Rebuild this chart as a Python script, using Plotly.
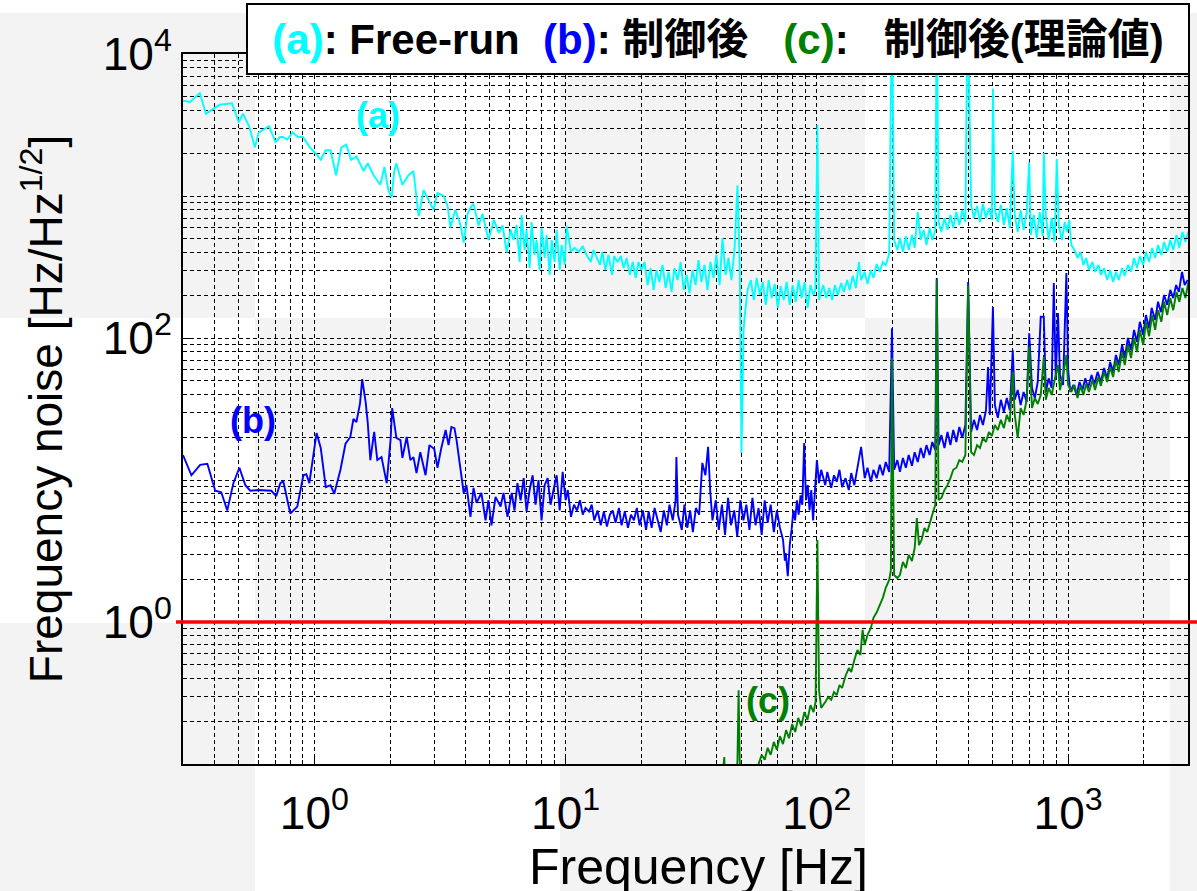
import plotly.graph_objects as go

# ---- (a) free-running frequency noise: (frequency [Hz], noise [Hz/Hz^1/2]) ----
free_run = [
    (0.30, 4700), (0.32, 4600), (0.35, 5300), (0.37, 3800), (0.42, 4400), (0.47, 4500),
    (0.50, 3300), (0.52, 3800), (0.55, 3100), (0.58, 2200), (0.60, 2800), (0.66, 3100),
    (0.70, 2400), (0.73, 2600), (0.75, 2600), (0.78, 2500), (0.82, 2800), (0.86, 2600),
    (0.90, 2600), (0.96, 2200), (1.01, 2000), (1.06, 1800), (1.11, 2100), (1.16, 2100),
    (1.22, 1400), (1.28, 2200), (1.34, 2300), (1.40, 1800), (1.47, 1900), (1.57, 1500),
    (1.63, 1700), (1.72, 1400), (1.83, 1200), (1.90, 1600), (1.97, 1100), (2.03, 980),
    (2.08, 1500), (2.12, 1700), (2.24, 1200), (2.37, 1400), (2.48, 1500), (2.60, 720),
    (2.72, 1100), (2.85, 940), (2.98, 800), (3.09, 1050), (3.27, 1000), (3.39, 850),
    (3.48, 600), (3.64, 800), (3.82, 620), (3.93, 470), (4.07, 750), (4.22, 850),
    (4.30, 880), (4.50, 620), (4.67, 750), (4.93, 490), (5.18, 680), (5.42, 550),
    (5.61, 620), (5.83, 400), (6.04, 580), (6.20, 490),
    (6.38, 625), (6.56, 343), (6.68, 735), (6.87, 417), (6.99, 577), (7.19, 311),
    (7.32, 656), (7.52, 385), (7.66, 490), (7.88, 301), (8.02, 596), (8.25, 366),
    (8.40, 531), (8.64, 278), (8.80, 490), (9.04, 343), (9.21, 577), (9.47, 301),
    (9.64, 452), (9.91, 327), (10.1, 615),
    (10.5, 404), (10.85, 431), (11.3, 404), (11.7, 444), (12.1, 385), (12.6, 343),
    (12.9, 417), (13.3, 366), (13.7, 327), (14.0, 404), (14.4, 301), (14.8, 385),
    (15.3, 278), (15.6, 378), (16.1, 343), (16.6, 378), (17.0, 311), (17.5, 366),
    (18.0, 278), (18.5, 343), (19.0, 265), (19.5, 343), (20.0, 301),
    (20.6, 343), (21.2, 236), (21.8, 311), (22.4, 218), (23.0, 301), (23.6, 248),
    (24.3, 327), (25.0, 225), (25.7, 292), (26.4, 211), (27.1, 311), (27.9, 256),
    (28.7, 343), (29.5, 218), (30.3, 278), (31.1, 207), (32.0, 301), (32.9, 236),
    (33.8, 354), (34.7, 248), (35.7, 327), (36.7, 218), (37.7, 343), (38.8, 265),
    (39.8, 385), (41.0, 236), (42.1, 506), (43.3, 278), (44.5, 366), (45.7, 256),
    (47.0, 417), (48.3, 1190), (49.3, 327), (50.1, 15.5), (51.1, 114), (51.5, 138),
    (53.0, 218),
    (54.6, 256), (56.1, 185), (57.6, 265), (59.3, 201), (60.9, 248), (62.6, 171),
    (64.3, 256), (66.1, 191), (68.0, 240), (69.9, 163), (71.8, 232), (73.8, 185),
    (75.8, 248), (77.9, 171), (80.1, 236), (82.3, 180), (84.6, 256), (86.9, 191),
    (89.3, 248), (91.8, 163), (94.3, 236), (96.9, 201), (98.6, 218), (100.5, 3160),
    (102, 185), (106, 236),
    (109, 191), (112, 225), (115, 185), (118, 236), (121, 201), (125, 244),
    (128, 211), (132, 256), (135, 218), (139, 274), (143, 225), (147, 343),
    (150, 256), (155, 292), (159, 240), (164, 301), (168, 265), (173, 332),
    (178, 292), (183, 343), (188, 327), (194, 391), (199, 25000), (203, 490),
    (209, 417), (214, 506), (220, 404), (226, 522), (232, 417), (239, 531),
    (245, 431), (252, 771), (259, 490), (266, 577), (273, 452), (281, 596),
    (288, 490), (296, 577), (300, 25000), (305, 656), (313, 558), (322, 700),
    (331, 577), (340, 735), (349, 596), (359, 771), (369, 625), (379, 797),
    (390, 656), (398, 25000), (411, 865), (422, 700), (434, 851), (446, 656),
    (458, 879), (471, 700), (484, 822), (497, 678), (502, 5680), (511, 797),
    (525, 656), (540, 865), (555, 625), (570, 822), (586, 596), (602, 2070),
    (613, 735), (630, 558), (647, 797), (665, 577), (684, 771), (700, 1730),
    (710, 531), (730, 735), (750, 506), (771, 771), (792, 522), (800, 2010),
    (815, 735), (837, 490), (860, 700), (884, 475), (901, 1820), (918, 625),
    (944, 490), (970, 656), (988, 558), (1010, 678), (1030, 452), (1060, 417),
    (1090, 366), (1120, 404), (1150, 327), (1180, 366), (1210, 301), (1250, 343),
    (1280, 292), (1320, 327), (1350, 278), (1390, 311), (1430, 256), (1470, 301),
    (1510, 248), (1550, 292), (1590, 256), (1640, 311), (1680, 274), (1730, 327),
    (1780, 292), (1830, 366), (1880, 311), (1930, 378), (1990, 327), (2040, 404),
    (2100, 343), (2160, 431), (2220, 366), (2280, 452), (2350, 385), (2410, 475),
    (2480, 404), (2550, 490), (2620, 417), (2700, 531), (2770, 431), (2850, 558),
    (2930, 475), (3010, 558),
]

# ---- (b) measured noise with the servo engaged ----
controlled = [
    (0.30, 15.0), (0.324, 10.8), (0.351, 12.8), (0.375, 13.0), (0.403, 8.4), (0.426, 8.2),
    (0.450, 6.1), (0.476, 9.5), (0.503, 12.2), (0.531, 9.2), (0.556, 8.4), (0.598, 8.5),
    (0.674, 8.4), (0.705, 7.7), (0.732, 9.5), (0.752, 9.8), (0.802, 5.8), (0.855, 6.5),
    (0.904, 10.8), (0.929, 11.0), (0.955, 9.5), (0.982, 13.4), (1.02, 21.4), (1.06, 16.8),
    (1.11, 8.9), (1.16, 9.2), (1.20, 8.0), (1.23, 9.5), (1.27, 11.8), (1.33, 18.0),
    (1.39, 20.1), (1.43, 26.9), (1.47, 25.6), (1.52, 34.8), (1.55, 51.4), (1.60, 35.4),
    (1.63, 25.6), (1.67, 13.8), (1.73, 21.8), (1.78, 13.8), (1.85, 14.5), (1.94, 9.5),
    (2.01, 19.1), (2.04, 32.1), (2.12, 19.8), (2.20, 19.1), (2.24, 14.3), (2.33, 20.1),
    (2.41, 13.8), (2.48, 14.5), (2.55, 11.2), (2.64, 15.7), (2.77, 10.8), (2.87, 17.6),
    (3.00, 16.5), (3.09, 12.2), (3.20, 16.8), (3.33, 22.5), (3.42, 17.6), (3.51, 23.6),
    (3.61, 23.2), (3.68, 19.1), (3.82, 12.2), (3.93, 8.1), (4.03, 9.2), (4.18, 5.5),
    (4.30, 8.8), (4.42, 6.9), (4.62, 8.1), (4.80, 5.2), (4.93, 7.2), (5.07, 4.8),
    (5.26, 7.6), (5.51, 6.5), (5.66, 8.1), (5.87, 5.5), (6.10, 8.1),
    (6.26, 6.1), (6.43, 9.5), (6.62, 7.2), (6.81, 10.3), (6.99, 6.0), (7.19, 8.5),
    (7.39, 10.8), (7.59, 6.7), (7.80, 10.0), (8.02, 5.2), (8.25, 9.2), (8.48, 10.3),
    (8.71, 6.7), (8.95, 8.5), (9.21, 10.8), (9.47, 6.1), (9.73, 11.4), (10.0, 7.2),
    (10.2, 8.5),
    (10.5, 5.5), (10.8, 6.7), (11.1, 6.1), (11.4, 7.2), (11.7, 5.7), (12.0, 6.35),
    (12.4, 6.0), (12.7, 6.7), (13.0, 5.2), (13.4, 6.1), (13.8, 4.8), (14.2, 6.0),
    (14.6, 4.7), (15.0, 5.7), (15.4, 6.1), (15.8, 5.0), (16.3, 6.35), (16.7, 4.8),
    (17.2, 6.0), (17.7, 4.6), (18.2, 5.7), (18.7, 5.2), (19.2, 6.35), (19.7, 4.8),
    (20.3, 6.1), (20.9, 4.45), (21.4, 6.0), (22.0, 4.6), (22.6, 6.35), (23.3, 5.0),
    (23.9, 4.3), (24.6, 6.1), (25.3, 4.8), (25.9, 6.7), (26.7, 5.2), (27.4, 7.2),
    (27.6, 14.5), (28.0, 5.7), (29.0, 4.45), (29.7, 6.7), (30.5, 4.6), (31.3, 6.1),
    (32.1, 4.3), (33.0, 6.35), (34.0, 5.7), (35.0, 13.2), (36.0, 10.8), (36.9, 17.1),
    (37.6, 8.5), (38.4, 5.2), (39.6, 7.2), (40.7, 4.45), (41.9, 6.7), (43.1, 4.1),
    (44.3, 7.5), (45.5, 4.8), (46.9, 6.1), (48.2, 4.0), (49.6, 7.2), (51.0, 5.2),
    (52.4, 6.7), (53.9, 4.45), (55.4, 7.5), (57.0, 4.8), (58.6, 6.35), (60.3, 4.1),
    (62.0, 7.2), (63.7, 5.0), (65.5, 6.7), (67.4, 4.3), (69.3, 6.1), (71.3, 4.6),
    (73.3, 3.8), (74.6, 2.7), (75.2, 3.06), (76.6, 2.1), (78.0, 3.5), (79.3, 4.45),
    (80.6, 6.1), (81.9, 5.2), (83.3, 7.2), (84.6, 5.7), (86.1, 7.8), (87.5, 6.7),
    (89.0, 18.2), (90.5, 7.2), (92.0, 9.2), (93.5, 6.1), (95.0, 8.5), (96.6, 5.2),
    (100, 13.8), (102, 9.5), (104, 11.8),
    (108, 9.2), (110, 11.4), (114, 8.8), (117, 10.8), (120, 9.7), (123, 11.8),
    (126, 8.9), (130, 10.3), (134, 8.5), (137, 11.2), (141, 9.2), (145, 12.2),
    (150, 17.1), (155, 10.3), (159, 12.2), (164, 9.7), (168, 11.8), (173, 10.3),
    (178, 12.8), (183, 10.8), (188, 13.4), (194, 11.4), (199, 117), (203, 11.8),
    (209, 13.8), (214, 11.4), (220, 14.3), (226, 12.2), (232, 15.0), (239, 12.6),
    (245, 15.7), (252, 13.4), (259, 16.8), (266, 14.3), (273, 17.6), (281, 15.0),
    (288, 18.5), (296, 16.3), (300, 265), (305, 17.6), (313, 20.7), (322, 16.8),
    (331, 21.8), (340, 17.6), (349, 22.5), (359, 18.5), (369, 23.6), (379, 19.8),
    (390, 24.4), (400, 248), (411, 21.8), (422, 26.5), (434, 22.5), (446, 28.7),
    (458, 24.4), (471, 31.0), (480, 62.5), (488, 28.7), (502, 165), (511, 33.7),
    (525, 27.4), (540, 36.7), (555, 30.1), (570, 37.8), (586, 31.0), (602, 82),
    (613, 36.7), (630, 43), (647, 33.7), (665, 41.7), (684, 35.4), (700, 108),
    (718, 44.5), (737, 37.8), (757, 49), (778, 141), (800, 141), (815, 41.7),
    (837, 52), (860, 44.5), (877, 244), (893, 50.6), (911, 150), (928, 54.8),
    (955, 46.7), (984, 287), (1000, 59.6), (1020, 41.7), (1050, 46.7), (1080, 39.7),
    (1110, 49), (1140, 43), (1170, 52), (1200, 44.5), (1240, 54.8), (1270, 46.7),
    (1310, 57.7), (1350, 49), (1390, 61.5), (1430, 52), (1470, 67.8), (1510, 57.7),
    (1550, 75.9), (1590, 64.5), (1640, 89.3), (1680, 72.3), (1730, 100), (1780, 82),
    (1830, 114), (1880, 93.8), (1930, 130), (1990, 105), (2040, 145), (2100, 117),
    (2150, 163), (2220, 134), (2280, 180), (2340, 152), (2410, 201), (2480, 171),
    (2550, 218), (2620, 191), (2690, 236), (2760, 211), (2840, 292), (2910, 236),
    (2990, 256),
]

# ---- (c) expected noise with the servo engaged (model) ----
theory = [
    (41.5, 0.06), (42.8, 0.112), (43.3, 0.06), (47.5, 0.06), (48.3, 0.107), (48.8, 0.33),
    (49.3, 0.107), (49.8, 0.06), (57.0, 0.06), (58.6, 0.10),
    (60.3, 0.116), (62.0, 0.107), (63.7, 0.130), (65.5, 0.116), (67.4, 0.143), (69.3, 0.126),
    (71.3, 0.157), (73.3, 0.138), (75.4, 0.173), (77.5, 0.152), (79.7, 0.191), (82.0, 0.168),
    (84.3, 0.211), (86.7, 0.185), (89.2, 0.232), (91.7, 0.204), (94.3, 0.260), (97.0, 0.232),
    (98.8, 0.273), (100.5, 3.78), (102, 0.33), (104, 0.248), (108, 0.273), (111, 0.296),
    (114, 0.283), (117, 0.321), (120, 0.306), (123, 0.360), (126, 0.343), (130, 0.417),
    (134, 0.474), (137, 0.445), (141, 0.540), (145, 0.635), (149, 0.586), (152, 0.88),
    (155, 0.689), (159, 0.81), (164, 0.908), (168, 1.07), (173, 1.17), (178, 1.32),
    (183, 1.48), (188, 1.74), (194, 1.98), (197, 2.32), (199, 72.3), (203, 2.14),
    (209, 2.04), (214, 2.14), (220, 2.65), (226, 2.40), (232, 2.97), (239, 2.69),
    (245, 3.32), (250, 5.39), (255, 3.48), (261, 3.78), (268, 4.59), (275, 4.31),
    (284, 5.39), (290, 5.96), (296, 6.67), (300, 256), (305, 7.23), (313, 7.47),
    (322, 8.5), (331, 9.2), (340, 10.3), (349, 11.8), (359, 12.2), (369, 13.8),
    (379, 13.4), (390, 15.0), (400, 236), (411, 15.7), (422, 15.0), (434, 17.6),
    (446, 16.8), (458, 19.8), (471, 18.5), (484, 21.8), (497, 20.4), (511, 24.4),
    (525, 22.5), (540, 26.5), (555, 23.2), (570, 28.7), (586, 25.6), (602, 57.7),
    (613, 28.7), (630, 19.8), (647, 32.1), (665, 28.7), (684, 36.7), (700, 86.4),
    (718, 32.1), (737, 37.8), (757, 34.3), (778, 39.7), (800, 73.5), (815, 36.7),
    (837, 44.5), (860, 39.7), (884, 50.6), (911, 64.5), (928, 43), (955, 54.8),
    (984, 75.9), (1000, 46.7), (1030, 41.7), (1060, 46.7), (1090, 37.8), (1120, 46),
    (1150, 39.7), (1180, 47.4), (1210, 41.7), (1250, 50.6), (1280, 43), (1320, 53.1),
    (1350, 46), (1390, 57.7), (1430, 49), (1470, 62.5), (1510, 53.1), (1550, 70),
    (1590, 57.7), (1640, 79.6), (1680, 64.5), (1730, 89.3), (1780, 72.3), (1830, 100),
    (1880, 79.6), (1930, 114), (1990, 89.3), (2040, 130), (2100, 103), (2160, 145),
    (2220, 114), (2280, 157), (2350, 130), (2410, 180), (2480, 145), (2550, 191),
    (2620, 157), (2700, 211), (2770, 180), (2850, 225), (2930, 191), (3010, 248),
]

reference_level = 1.0          # horizontal red line [Hz/Hz^1/2]
x_ticks = [1, 10, 100, 1000]
x_tick_text = ["10<sup>0</sup>", "10<sup>1</sup>", "10<sup>2</sup>", "10<sup>3</sup>"]
y_ticks = [1, 100, 10000]
y_tick_text = ["10<sup>0</sup>", "10<sup>2</sup>", "10<sup>4</sup>"]

CYAN, BLUE, GREEN = "#00ffff", "#0000ff", "#008000"
FONT = "Liberation Sans, Arial, Noto Sans CJK JP, sans-serif"

W, H = 1197, 891
L, R, T, B = 183, 9, 54, 127
PW, PH = W - L - R, H - T - B


def px_x(p):
    return (p - L) / PW


def px_y(p):
    return (H - B - p) / PH


fig = go.Figure()
for series, colour in ((free_run, CYAN), (controlled, BLUE), (theory, GREEN)):
    fx, fy = zip(*series)
    fig.add_trace(go.Scatter(x=list(fx), y=list(fy), mode="lines",
                             line=dict(color=colour, width=1.9), showlegend=False))

# light checkered page background
grey_cells = [
    (0, 13, 255, 318), (560, 13, 865, 318), (1170, 13, 1197, 318),
    (255, 318, 560, 623), (865, 318, 1170, 623),
    (0, 623, 255, 891), (560, 623, 865, 891), (1170, 623, 1197, 891),
]
shapes = []
for x0, y0, x1, y1 in grey_cells:
    shapes.append(dict(type="rect", xref="paper", yref="paper", layer="below",
                       x0=px_x(x0), x1=px_x(x1), y0=px_y(y1), y1=px_y(y0),
                       fillcolor="#f3f3f3", line=dict(width=0)))
shapes.append(dict(type="line", xref="paper", yref="y", x0=px_x(176), x1=px_x(1197),
                   y0=reference_level, y1=reference_level,
                   line=dict(color="#ff0000", width=3.5)))

dash = "4px,3px"
minor_x = [m * 10 ** e for e in range(-1, 4) for m in range(2, 10)]
minor_y = [m * 10 ** e for e in range(-1, 4) for m in range(1, 10) if (m, e) not in ((1, 0), (1, 2))]
axis_common = dict(
    type="log", showline=True, linewidth=2, linecolor="black", mirror="ticks",
    ticks="inside", ticklen=8, tickwidth=1.2, tickcolor="black",
    showgrid=True, gridcolor="black", gridwidth=1, griddash=dash,
    tickfont=dict(family=FONT, size=46, color="black"),
    zeroline=False, automargin=False,
)

fig.update_layout(
    width=W, height=H,
    margin=dict(l=L, r=R, t=T, b=B),
    paper_bgcolor="white", plot_bgcolor="rgba(0,0,0,0)",
    shapes=shapes,
    xaxis=dict(
        range=[-0.5229, 3.4771], tickmode="array", tickvals=x_ticks, ticktext=x_tick_text,
        ticklabelstandoff=8,
        minor=dict(tickmode="array", tickvals=minor_x, ticks="inside", ticklen=4,
                   tickcolor="black", showgrid=True, gridcolor="black", gridwidth=1,
                   griddash=dash),
        **axis_common,
    ),
    yaxis=dict(
        range=[-1, 4], tickmode="array", tickvals=y_ticks, ticktext=y_tick_text,
        minor=dict(tickmode="array", tickvals=minor_y, ticks="inside", ticklen=4,
                   tickcolor="black", showgrid=True, gridcolor="black", gridwidth=1,
                   griddash=dash),
        title=dict(text="Frequency noise [Hz/Hz<sup>1/2</sup>]",
                   font=dict(family=FONT, size=46, color="black"), standoff=26),
        **axis_common,
    ),
)

# x-axis title placed below the tick labels
fig.add_annotation(xref="paper", yref="paper", x=px_x(698), y=px_y(867),
                   xanchor="center", yanchor="middle", showarrow=False,
                   text="Frequency [Hz]", font=dict(family=FONT, size=50, color="black"))

sp = "\u00a0"
legend_text = (
    f"<b><span style='color:{CYAN}'>(a)</span>: Free-run{sp}{sp}"
    f"<span style='color:{BLUE}'>(b)</span>: 制御後{sp}{sp}{sp}"
    f"<span style='color:{GREEN}'>(c)</span>:{sp}{sp}{sp}制御後(理論値)</b>"
)
fig.add_annotation(
    xref="paper", yref="paper", x=px_x(717.5), y=px_y(39),
    xanchor="center", yanchor="middle", text=legend_text, showarrow=False,
    width=940, height=68, align="center", bgcolor="white",
    bordercolor="black", borderwidth=2, borderpad=0,
    font=dict(family=FONT, size=42, color="black"),
)
for label, colour, lx, ly in (("(a)", CYAN, 0.255, 3.57),
                              ("(b)", BLUE, -0.243, 1.42),
                              ("(c)", GREEN, 1.805, -0.55)):
    fig.add_annotation(xref="x", yref="y", x=lx, y=ly, text=f"<b>{label}</b>",
                       showarrow=False, font=dict(family=FONT, size=36, color=colour))

fig.write_html("out.html")
